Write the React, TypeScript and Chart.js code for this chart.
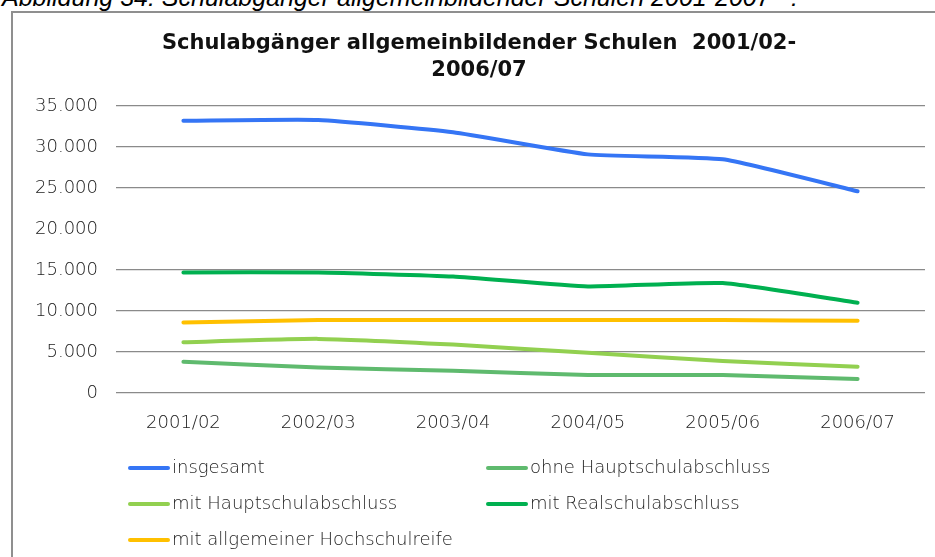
import React, { useEffect, useRef } from "react";
import { Chart, registerables } from "chart.js";

Chart.register(...registerables);

const categories = ["2001/02", "2002/03", "2003/04", "2004/05", "2005/06", "2006/07"];
const insgesamt = [33200, 33300, 31800, 29100, 28500, 24600];
const ohneHauptschulabschluss = [3800, 3100, 2700, 2200, 2200, 1700];
const mitHauptschulabschluss = [6200, 6600, 5900, 4900, 3900, 3200];
const mitRealschulabschluss = [14700, 14700, 14200, 13000, 13400, 11000];
const mitHochschulreife = [8600, 8900, 8900, 8900, 8900, 8800];
const seriesLabels = [
  "insgesamt",
  "ohne Hauptschulabschluss",
  "mit Hauptschulabschluss",
  "mit Realschulabschluss",
  "mit allgemeiner Hochschulreife",
];
const seriesColors = ["#3575F5", "#5FBA6E", "#92D050", "#00B050", "#FFC000"];
const titleLines = ["Schulabgänger allgemeinbildender Schulen  2001/02-", "2006/07"];
const captionText = "Abbildung 34: Schulabgänger allgemeinbildender Schulen 2001-2007⁷⁴:";
const yMin = 0;
const yMax = 35000;
const yStep = 5000;
const hiddenGridValues = [20000];

const FONT = "'DejaVu Sans', sans-serif";

const titlePlugin = {
  id: "customTitle",
  afterDraw(chart: any) {
    const ctx = chart.ctx;
    ctx.save();
    ctx.fillStyle = "#111";
    ctx.font = `bold 21px ${FONT}`;
    ctx.textAlign = "center";
    ctx.textBaseline = "middle";
    ctx.fillText(titleLines[0], 479, 44);
    ctx.fillText(titleLines[1], 479, 71);
    ctx.restore();
  },
};

const legendPlugin = {
  id: "customLegend",
  afterDraw(chart: any) {
    const ctx = chart.ctx;
    const colX = [128, 486];
    const rowY = [468, 504, 540];
    ctx.save();
    ctx.font = `200 18px ${FONT}`;
    ctx.textBaseline = "middle";
    ctx.textAlign = "left";
    chart.data.datasets.forEach((ds: any, i: number) => {
      const x = colX[i % 2];
      const y = rowY[Math.floor(i / 2)];
      ctx.strokeStyle = ds.borderColor;
      ctx.lineWidth = 4;
      ctx.lineCap = "round";
      ctx.beginPath();
      ctx.moveTo(x + 2, y);
      ctx.lineTo(x + 40, y);
      ctx.stroke();
      ctx.fillStyle = "#222";
      ctx.fillText(ds.label, x + 44, y);
    });
    ctx.restore();
  },
};

function ChartView() {
  const ref = useRef<HTMLCanvasElement | null>(null);
  useEffect(() => {
    if (!ref.current) return;
    const seriesData = [
      insgesamt,
      ohneHauptschulabschluss,
      mitHauptschulabschluss,
      mitRealschulabschluss,
      mitHochschulreife,
    ];
    const chart = new Chart(ref.current, {
      type: "line",
      data: {
        labels: categories,
        datasets: seriesData.map((d, i) => ({
          label: seriesLabels[i],
          data: d,
          borderColor: seriesColors[i],
          backgroundColor: seriesColors[i],
          borderWidth: 4,
          pointRadius: 0,
          tension: 0.15,
          borderCapStyle: "round" as const,
          borderJoinStyle: "round" as const,
          fill: false,
        })),
      },
      options: {
        animation: false,
        responsive: false,
        maintainAspectRatio: false,
        layout: { padding: { left: 0, right: 10, top: 106, bottom: 114 } },
        plugins: {
          legend: { display: false },
          title: { display: false },
          tooltip: { enabled: false },
        },
        scales: {
          x: {
            offset: true,
            grid: { display: false, drawTicks: false },
            border: { display: false },
            ticks: {
              color: "#222",
              padding: 20,
              maxRotation: 0,
              font: { family: FONT, size: 18, weight: 200 as any },
            },
            afterFit(scale: any) {
              scale.height = 50;
            },
          },
          y: {
            min: yMin,
            max: yMax,
            grid: {
              drawTicks: false,
              lineWidth: 1.3,
              color: (c: any) =>
                c.tick && hiddenGridValues.includes(c.tick.value) ? "rgba(0,0,0,0)" : "#8a8a8a",
            },
            border: { display: false },
            ticks: {
              stepSize: yStep,
              color: "#222",
              padding: 18,
              font: { family: FONT, size: 18, weight: 200 as any },
              callback: (v: any) => Number(v).toLocaleString("de-DE"),
            },
            afterFit(scale: any) {
              scale.width = 116;
            },
          },
        },
      },
      plugins: [titlePlugin, legendPlugin],
    });
    return () => chart.destroy();
  }, []);
  return (
    <canvas
      ref={ref}
      width={935}
      height={557}
      style={{ position: "absolute", left: 0, top: 0, width: 935, height: 557 }}
    />
  );
}

export default function App() {
  return (
    <div
      style={{
        position: "fixed",
        left: 0,
        top: 0,
        width: 935,
        height: 557,
        overflow: "hidden",
        background: "#fff",
      }}
    >
      <div
        style={{
          position: "absolute",
          left: 2,
          top: -15,
          whiteSpace: "nowrap",
          fontFamily: "'Liberation Sans', Arial, sans-serif",
          fontStyle: "italic",
          fontSize: 25,
          lineHeight: "25px",
          color: "#000",
        }}
      >
        {captionText}
      </div>
      <div
        style={{
          position: "absolute",
          left: 11,
          top: 11,
          width: 1000,
          height: 700,
          borderLeft: "2px solid #8f8f8f",
          borderTop: "2px solid #8f8f8f",
        }}
      />
      <ChartView />
    </div>
  );
}
